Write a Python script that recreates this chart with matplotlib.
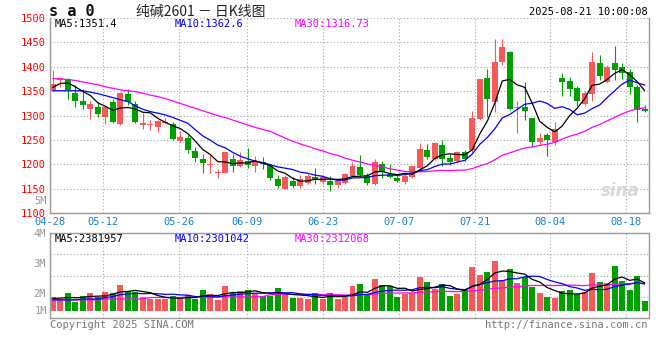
import numpy as np
import pandas as pd
import matplotlib
matplotlib.use('Agg')
import matplotlib.pyplot as plt

# ================= data =================
opens = [1351, 1373, 1376, 1347, 1330, 1313, 1317, 1298, 1328, 1282,
         1344, 1324, 1281, 1280, 1276, 1284, 1283, 1249, 1254, 1228,
         1212, 1198, 1182, 1183, 1212, 1197, 1207, 1196, 1205, 1199,
         1170, 1150, 1166, 1155, 1163, 1175, 1165, 1167, 1157, 1163,
         1176, 1195, 1177, 1160, 1200, 1180, 1172, 1165, 1175, 1192,
         1230, 1212, 1240, 1214, 1207, 1225, 1230, 1294, 1378, 1328,
         1409, 1431, 1316, 1318, 1296, 1247, 1260, 1247, 1378, 1371,
         1357, 1324, 1344, 1407, 1368, 1407, 1400, 1390, 1359, 1313]
highs = [1393, 1380, 1377, 1363, 1354, 1329, 1328, 1320, 1335, 1349,
         1354, 1331, 1305, 1292, 1292, 1296, 1288, 1269, 1260, 1236,
         1221, 1219, 1190, 1226, 1221, 1225, 1233, 1217, 1216, 1200,
         1178, 1178, 1175, 1178, 1180, 1192, 1178, 1177, 1168, 1182,
         1206, 1219, 1182, 1211, 1207, 1200, 1180, 1180, 1199, 1243,
         1241, 1247, 1250, 1221, 1228, 1230, 1309, 1376, 1395, 1457,
         1457, 1433, 1330, 1369, 1296, 1265, 1264, 1288, 1388, 1380,
         1361, 1350, 1431, 1424, 1404, 1442, 1407, 1395, 1363, 1322]
lows = [1350, 1359, 1335, 1318, 1313, 1294, 1298, 1283, 1284, 1281,
        1322, 1285, 1272, 1270, 1267, 1282, 1250, 1247, 1224, 1206,
        1183, 1183, 1172, 1183, 1185, 1195, 1192, 1185, 1190, 1168,
        1151, 1149, 1151, 1151, 1160, 1161, 1159, 1146, 1151, 1161,
        1174, 1177, 1158, 1157, 1172, 1172, 1165, 1161, 1172, 1189,
        1212, 1209, 1197, 1199, 1206, 1207, 1226, 1292, 1298, 1308,
        1404, 1311, 1265, 1292, 1235, 1240, 1218, 1240, 1341, 1341,
        1320, 1322, 1330, 1373, 1366, 1373, 1376, 1345, 1288, 1308]
closes = [1365, 1378, 1352, 1330, 1322, 1324, 1303, 1317, 1288, 1347,
          1328, 1288, 1284, 1282, 1290, 1288, 1252, 1256, 1230, 1214,
          1202, 1200, 1184, 1225, 1197, 1210, 1199, 1207, 1200, 1173,
          1155, 1175, 1156, 1170, 1176, 1171, 1175, 1158, 1167, 1180,
          1197, 1178, 1163, 1206, 1185, 1175, 1167, 1176, 1196, 1232,
          1216, 1243, 1212, 1206, 1225, 1212, 1296, 1375, 1335, 1409,
          1440, 1313, 1318, 1310, 1247, 1255, 1250, 1272, 1369, 1354,
          1330, 1347, 1410, 1382, 1400, 1393, 1387, 1358, 1312, 1309]
# volume in millions of lots
volumes = [1.86, 1.80, 2.00, 1.71, 1.91, 2.00, 1.86, 2.04, 2.00, 2.28,
           2.08, 2.03, 1.86, 1.80, 1.80, 1.80, 1.91, 1.80, 1.93, 1.80,
           2.10, 1.97, 1.78, 2.23, 2.00, 2.08, 2.10, 1.96, 1.91, 1.91,
           2.17, 1.93, 1.83, 1.83, 1.80, 2.00, 1.80, 2.00, 1.80, 1.86,
           2.23, 2.30, 1.93, 2.47, 2.27, 2.23, 1.87, 1.96, 2.00, 2.53,
           2.37, 2.12, 2.30, 1.91, 1.97, 2.10, 2.87, 2.59, 2.70, 3.07,
           2.43, 2.80, 2.33, 2.52, 2.19, 2.00, 1.87, 1.83, 2.07, 2.10,
           1.96, 2.03, 2.67, 2.37, 2.33, 2.90, 2.41, 2.10, 2.57, 1.73]

# MA values before their window fills (the earlier bars are off the chart)
ma5_head = [1358, 1366, 1367, 1359]
ma10_head = [1351, 1351, 1351, 1351, 1351, 1348, 1345, 1341, 1337]
ma30_head = [1376, 1375, 1374, 1372, 1369, 1366, 1363, 1359, 1356, 1353,
             1351, 1349, 1346, 1342, 1339, 1335, 1330, 1325, 1320, 1315,
             1310, 1305, 1300, 1296, 1291, 1286, 1281, 1276, 1272]
vma5_head = [1.82, 1.83, 1.85, 1.84]
vma10_head = [1.77, 1.77, 1.77, 1.77, 1.80, 1.80, 1.80, 1.85, 1.88]
vma30_head = [1.77, 1.77, 1.77, 1.77, 1.77, 1.77, 1.77, 1.80, 1.80, 1.80,
              1.80, 1.80, 1.80, 1.85, 1.85, 1.85, 1.85, 1.85, 1.87, 1.87,
              1.87, 1.87, 1.87, 1.87, 1.87, 1.87, 1.87, 1.87, 1.88]

holidays = ['2025-05-01', '2025-05-02', '2025-05-05', '2025-06-02']
label_dates = ['04-28', '05-12', '05-26', '06-09', '06-23',
               '07-07', '07-21', '08-04', '08-18']
price_ticks = [1100, 1150, 1200, 1250, 1300, 1350, 1400, 1450, 1500]
vol_ticks = [2, 3, 4]
vol_tick_labels = ['2M', '3M', '4M']

title = '纯碱2601 － 日K线图'
stamp = '2025-08-21 10:00:08'
price_ma_text = ['MA5:1351.4', 'MA10:1362.6', 'MA30:1316.73']
vol_ma_text = ['MA5:2381957', 'MA10:2301042', 'MA30:2312068']

RED = '#f65959'
GREEN = '#00a000'
MA_COLORS = ['black', '#0000ff', '#ff00ff']
GRID = '#a8a8a8'
FRAME = '#999999'
MONO = 'DejaVu Sans Mono'
CJK = ['Noto Sans CJK SC', 'DejaVu Sans']

plt.rcParams['font.family'] = [MONO]


def moving(vals, n, head):
    ma = pd.Series(vals, dtype=float).rolling(n).mean().to_numpy()
    ma[:n - 1] = head
    return ma


days = pd.bdate_range('2025-04-28', '2025-08-21')
days = days[~days.isin(pd.to_datetime(holidays))]
day_labels = list(days.strftime('%m-%d'))
n = len(closes)
x = np.arange(n)

o = np.array(opens, float)
c = np.array(closes, float)
up = c >= o
colors = np.where(up, RED, GREEN)

# sina spaces the date grid by width/(n-1) while bars use width/n
label_idx = [day_labels.index(d) for d in label_dates]
grid_x = [i * n / (n - 1) - 0.4 for i in label_idx]

W, H = 660, 360
fig = plt.figure(figsize=(W / 100, H / 100), dpi=100)


def fig_box(left, top, right, bottom):
    return [left / W, 1 - bottom / H, (right - left) / W, (bottom - top) / H]


def fig_text(px, py, s, **kw):
    fig.text(px / W, 1 - py / H, s, **kw)


def style_frame(ax):
    for side in ['left', 'right', 'bottom', 'top']:
        ax.spines[side].set_color(FRAME)
        ax.spines[side].set_linewidth(1)
    ax.set_xlim(-0.4, n - 0.4)
    ax.set_xticks(grid_x)
    ax.grid(True, color=GRID, linestyle=(0, (1, 2)), linewidth=0.8)
    ax.set_axisbelow(True)
    ax.tick_params(length=0, labelsize=7.5)


# =================== price panel ===================
ax = fig.add_axes(fig_box(50, 18, 649, 213.3))
style_frame(ax)
ax.spines['top'].set_visible(False)
ax.set_ylim(1100, 1500)
ax.set_yticks(price_ticks)
ax.tick_params(axis='y', labelcolor='#ff0000', pad=3)
ax.set_xticklabels(label_dates)
ax.tick_params(axis='x', labelcolor='#1a7fd6', pad=3)

ax.vlines(x, lows, highs, colors=colors, linewidth=0.8, zorder=2)
body_lo = np.minimum(o, c)
body_h = np.maximum(np.abs(c - o), 1.5)
ax.bar(x, body_h, bottom=body_lo, width=0.8, color=colors, linewidth=0, zorder=2)

ma5 = moving(closes, 5, ma5_head)
ma10 = moving(closes, 10, ma10_head)
ma30 = moving(closes, 30, ma30_head)
for ma, col in zip([ma30, ma10, ma5], MA_COLORS[::-1]):
    ax.plot(x, ma, color=col, linewidth=0.9, zorder=3)

ax.text(0.985, 0.07, 'sina', transform=ax.transAxes, ha='right', va='bottom',
        fontsize=12, fontweight='bold', style='italic', color='#d8d8d8',
        family='DejaVu Sans', zorder=1)

# =================== volume panel ===================
axv = fig.add_axes(fig_box(50, 233, 649, 318))
style_frame(axv)
axv.set_ylim(1.167, 4.0)
axv.set_yticks(vol_ticks)
axv.set_yticklabels(vol_tick_labels)
axv.tick_params(axis='y', labelcolor='#999999', pad=3)
axv.set_xticklabels([])
axv.grid(False, axis='y')
lo, hi = axv.get_ylim()
for f in [0.25, 0.5, 0.75]:
    axv.axhline(lo + (hi - lo) * f, color=GRID, linestyle=(0, (1, 2)),
                linewidth=0.8, zorder=0)

base = 1.40
vol = np.array(volumes)
axv.bar(x, vol - base, bottom=base, width=0.8, color=colors, linewidth=0, zorder=2)
vma5 = moving(volumes, 5, vma5_head)
vma10 = moving(volumes, 10, vma10_head)
vma30 = moving(volumes, 30, vma30_head)
for ma, col in zip([vma30, vma10, vma5], MA_COLORS[::-1]):
    axv.plot(x, ma, color=col, linewidth=0.9, zorder=3)

# =================== texts ===================
fig_text(49, 12, 's a 0', fontsize=11, fontweight='bold', va='center', color='#111111')
fig_text(201, 12, title, fontsize=10, ha='center', va='center', color='#222222', family=CJK)
fig_text(648, 12, stamp, fontsize=7.5, ha='right', va='center', color='black')
for px, s, col in zip([55, 175, 295], price_ma_text, MA_COLORS):
    fig_text(px, 24, s, fontsize=7.5, va='center', color=col)
for px, s, col in zip([55, 175, 295], vol_ma_text, MA_COLORS):
    fig_text(px, 239, s, fontsize=7.5, va='center', color=col)
fig_text(47, 200.5, '5M', fontsize=7.5, ha='right', va='center', color='#999999')
fig_text(47, 310.5, '1M', fontsize=7.5, ha='right', va='center', color='#999999')
fig_text(50, 325, 'Copyright 2025 SINA.COM', fontsize=7.5, va='center', color='#777777')
fig_text(648, 325, 'http://finance.sina.com.cn', fontsize=7.5, ha='right', va='center',
         color='#777777')

fig.savefig('out.png', dpi=100)
